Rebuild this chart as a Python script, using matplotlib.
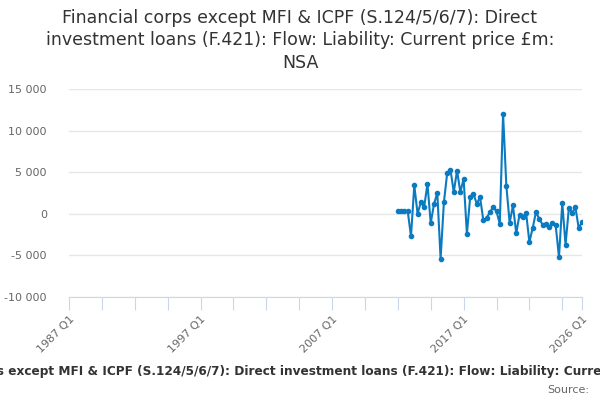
import matplotlib
matplotlib.use("Agg")
from matplotlib import pyplot as plt
import numpy as np

# quarterly series, 2012 Q1 .. 2026 Q1
start_year = 2012
values = [310, 310, 310, 310,
          -2700, 3430, 0, 1400,
          800, 3600, -1130, 1200,
          2500, -5400, 1360, 4880,
          5320, 2600, 5200, 2600,
          4200, -2400, 2000, 2400,
          1200, 2000, -800, -480,
          200, 800, 280, -1200,
          12000, 3320, -1080, 1000,
          -2330, -120, -440, 120,
          -3400, -1720, 200, -600,
          -1300, -1250, -1600, -1080,
          -1400, -5200, 1280, -3720,
          680, 120, 760, -1720,
          -1000]
axis_start = 1987
y_ticks = [-10000, -5000, 0, 5000, 10000, 15000]
label_quarters = [0, 40, 80, 120, 156]

title = ("Financial corps except MFI & ICPF (S.124/5/6/7): Direct\n"
         "investment loans (F.421): Flow: Liability: Current price £m:\nNSA")
caption = ("Financial corps except MFI & ICPF (S.124/5/6/7): Direct investment loans "
           "(F.421): Flow: Liability: Current price £m: NSA")

# x as quarter index from 1987 Q1
x = np.arange(len(values)) + (start_year - axis_start) * 4

fig = plt.figure(figsize=(6, 4), dpi=100)
ax = fig.add_axes([69/600, 1-297/400, (582-69)/600, (297-89)/400])

ax.plot(x, values, color='#0b7bc1', lw=1.5, marker='o', ms=3.0, zorder=3)

ax.set_xlim(0, 156)
ax.set_ylim(-10000, 15000)
ax.set_yticks(y_ticks)
ax.set_yticklabels([f"{v:,}".replace(",", " ") for v in y_ticks])
ax.grid(axis='y', color='#e6e6e6', lw=1)
ax.set_axisbelow(True)

ticks = list(range(0, 151, 10)) + [156]
ax.set_xticks(ticks)
lbls = []
for q in ticks:
    if q in label_quarters:
        lbls.append(f"{axis_start + q // 4} Q{q % 4 + 1}")
    else:
        lbls.append("")
ax.set_xticklabels(lbls, rotation=45, ha='right', rotation_mode='anchor')

for s in ['top', 'right', 'left']:
    ax.spines[s].set_visible(False)
ax.spines['bottom'].set_color('#ccd6eb')
ax.tick_params(axis='x', length=9, color='#ccd6eb', labelsize=8, labelcolor='#666666', pad=3)
ax.tick_params(axis='y', length=0, labelsize=8, labelcolor='#666666', pad=16)

fig.text(0.5, 0.978, title, ha='center', va='top', fontsize=12.5, color='#333333',
         linespacing=1.33)
fig.text(0.515, 0.07, caption, ha='center', va='center', fontsize=8.7,
         fontweight='bold', color='#333333')
fig.text(0.982, 0.025, "Source:", ha='right', va='center', fontsize=8, color='#666666')

fig.savefig("out.png", dpi=100)
